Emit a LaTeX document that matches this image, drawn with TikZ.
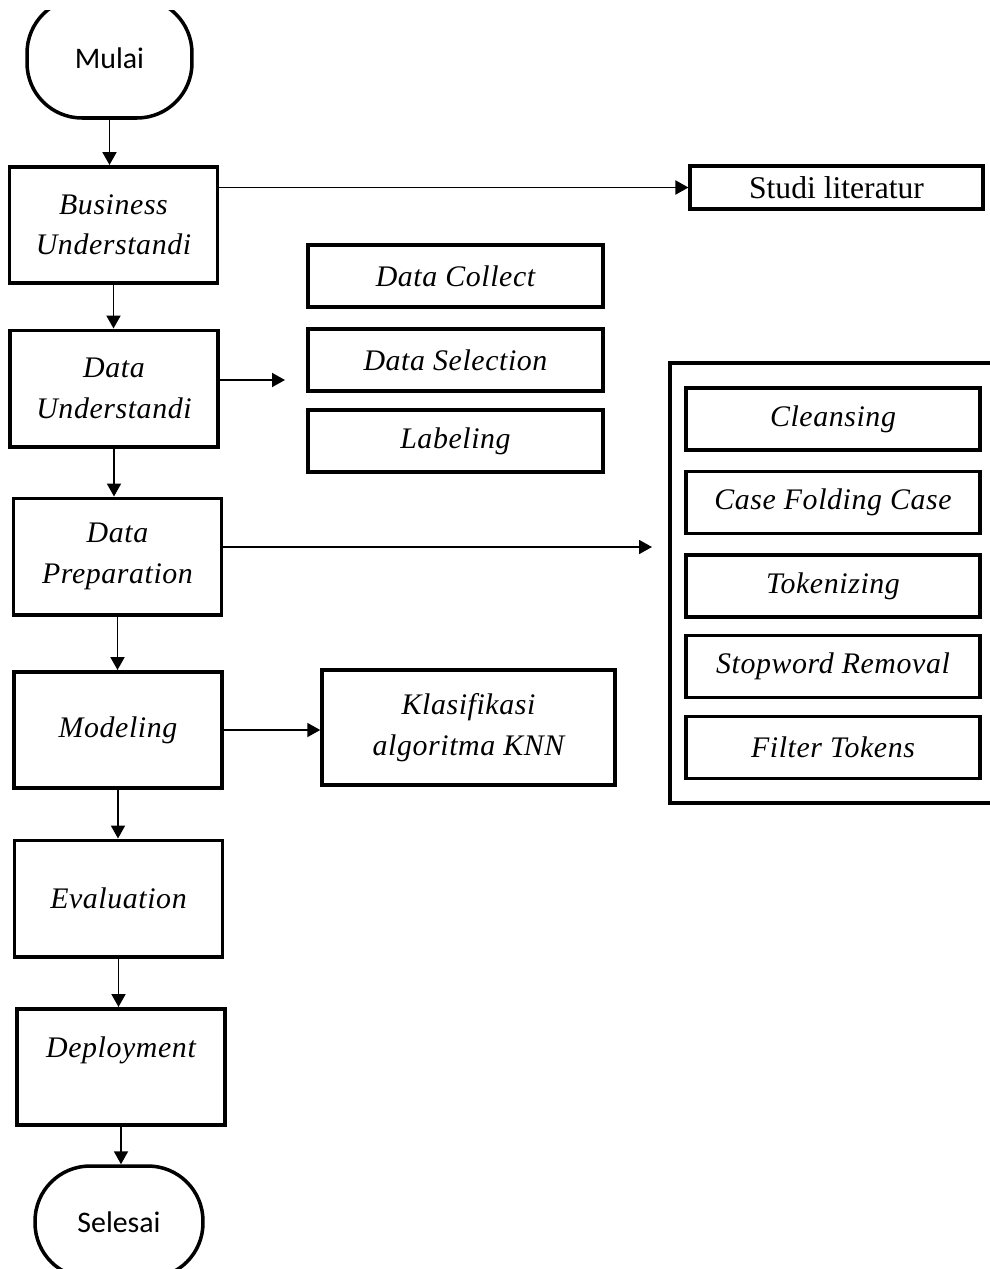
\documentclass[tikz,border=0pt]{standalone}
\usepackage{fontspec}
\setmainfont{Liberation Serif}
\newfontfamily\calibri{Carlito}
\usetikzlibrary{arrows.meta}

\begin{document}
\begin{tikzpicture}[x=0.02cm, y=-0.02cm,
    box/.style={draw, line width=2pt, inner sep=0pt, align=center,
        font=\itshape\addfontfeature{LetterSpace=2}\fontsize{17}{23}\selectfont},
    flow/.style={box, minimum width=41.7mm, minimum height=23.3mm},
    sub/.style={box, minimum width=59mm, minimum height=12.4mm},
    term/.style={draw, line width=2pt, rounded corners=11mm, inner sep=0pt,
        font=\calibri\fontsize{17}{20}\selectfont},
    arr/.style={line width=1.1pt, -{Triangle[length=2.6mm, width=2.8mm]}}]
    \useasboundingbox (0,0) rectangle (990,1269);

    %nodes
    \begin{scope}
        \clip (0,10) rectangle (990,1269);
        \node[term, minimum width=33mm, minimum height=24mm] (mulai) at (109.5, 58) {Mulai};
    \end{scope}
    \node[flow] (bu) at (113.5, 225) {Business\\Understandi};
    \node[flow] (du) at (114, 388.5) {Data\\Understandi};
    \node[flow] (dp) at (117.5, 556.5) {Data\\Preparation};
    \node[flow] (model) at (118, 730) {Modeling};
    \node[flow] (eval) at (118.5, 898.5) {Evaluation};
    \node[flow] (deploy) at (121, 1067) {Deployment\\\mbox{}};
    \node[term, minimum width=33.6mm, minimum height=22.4mm] (selesai) at (119, 1222) {Selesai};

    \node[box, line width=1.8pt, minimum width=58.6mm, minimum height=8.6mm,
        font=\fontsize{18}{20}\selectfont] (studi) at (836.5, 187.5) {Studi literatur};

    \node[sub] (collect) at (455.5, 276) {Data Collect};
    \node[sub] (select) at (455.5, 360) {Data Selection};
    \node[sub] (label) at (455.5, 441) {Labeling};

    \node[draw, line width=1.8pt, minimum width=66mm, minimum height=88mm] (prep) at (835, 583) {};
    \node[sub, minimum width=58.8mm] (clean) at (833, 419) {Cleansing};
    \node[sub, minimum width=58.8mm] (fold) at (833, 502.5) {Case Folding Case};
    \node[sub, minimum width=58.8mm] (token) at (833, 586) {Tokenizing};
    \node[sub, minimum width=58.8mm] (stop) at (833, 666.5) {Stopword Removal};
    \node[sub, minimum width=58.8mm] (filter) at (833, 747.5) {Filter Tokens};

    \node[box, minimum width=58.6mm, minimum height=23mm] (knn) at (468.5, 727.5) {Klasifikasi\\algoritma KNN};

    \coordinate (duend) at (285, 380);
    \coordinate (dpend) at (652, 547);

    %edges
    \draw[arr] (mulai.south) -- (mulai.south |- bu.north);
    \draw[arr] (bu.south) -- (bu.south |- du.north);
    \draw[arr] (du.south) -- (du.south |- dp.north);
    \draw[arr] (dp.south) -- (dp.south |- model.north);
    \draw[arr] (model.south) -- (model.south |- eval.north);
    \draw[arr] (eval.south) -- (eval.south |- deploy.north);
    \draw[arr] (deploy.south) -- (deploy.south |- selesai.north);
    \draw[arr] (bu.east |- studi.west) -- (studi.west);
    \draw[arr] (du.east |- duend) -- (duend);
    \draw[arr] (dp.east |- dpend) -- (dpend);
    \draw[arr] (model.east) -- (model.east -| knn.west);
\end{tikzpicture}
\end{document}
